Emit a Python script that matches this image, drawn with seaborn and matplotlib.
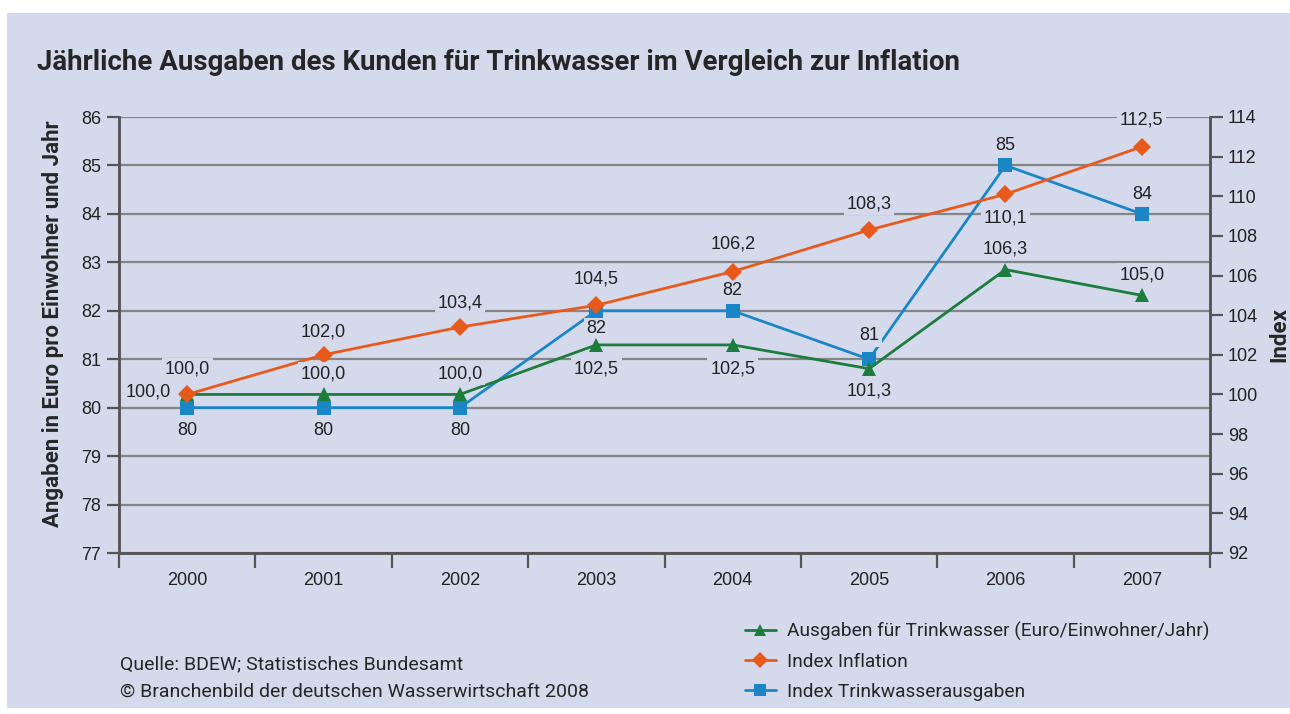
import matplotlib
matplotlib.use("Agg")
import matplotlib.pyplot as plt
import numpy as np
import pandas as pd
import seaborn as sns
from matplotlib.lines import Line2D
from matplotlib.patches import Rectangle

# data
years = ["2000", "2001", "2002", "2003", "2004", "2005", "2006", "2007"]
euro_wasser = [80, 80, 80, 82, 82, 81, 85, 84]  # blue, left axis
index_wasser = [100.0, 100.0, 100.0, 102.5, 102.5, 101.3, 106.3, 105.0]  # green, right
index_inflation = [100.0, 102.0, 103.4, 104.5, 106.2, 108.3, 110.1, 112.5]  # orange, right

# label placement: offsets in points
blue_off = [(0, -16.5), (0, -16.5), (0, -16.5), (0, -13), (0, 14.5), (0, 17), (0, 14.5), (0, 14)]
green_off = [(0, 18), (0, 15), (0, 15), (0, -17), (0, -17), (0, -16), (0, 15), (0, 15)]
orange_off = [(-28, 2), (0, 16.5), (0, 17), (0, 19), (0, 19.5), (0, 19), (0, -17), (0, 19)]

BG = "#d4daec"
BLUE = "#1b86c6"
GREEN = "#1c7d3c"
ORANGE = "#e8591c"
GRID = "#858585"
SPINE = "#555555"

sns.set_style("white")
plt.rcParams["font.family"] = ["Liberation Sans", "DejaVu Sans"]
narrow = ["Roboto", "DejaVu Sans"]

df = pd.DataFrame({"Jahr": years, "euro": euro_wasser,
                   "iw": index_wasser, "ii": index_inflation})

fig = plt.figure(figsize=(12.9, 7.14), dpi=100)
fig.patch.set_facecolor("white")
fig.patches.append(Rectangle((7 / 1290, 6 / 714), 1 - 7 / 1290, 1 - 19 / 714,
                             transform=fig.transFigure, facecolor=BG,
                             edgecolor="none", zorder=-10))

ax = fig.add_axes([119 / 1290, 1 - 553 / 714, (1210 - 119) / 1290, (553 - 117) / 714])
ax.set_facecolor(BG)
ax2 = ax.twinx()

sns.lineplot(data=df, x="Jahr", y="euro", ax=ax, color=BLUE, marker="s",
             markersize=10, markeredgewidth=0, linewidth=2.0)
sns.lineplot(data=df, x="Jahr", y="iw", ax=ax2, color=GREEN, marker="^",
             markersize=10, markeredgewidth=0, linewidth=2.0)
sns.lineplot(data=df, x="Jahr", y="ii", ax=ax2, color=ORANGE, marker="D",
             markersize=9, markeredgewidth=0, linewidth=2.0)

ax.set_ylim(77, 86)
ax.set_yticks(range(77, 87))
ax2.set_ylim(92, 114)
ax2.set_yticks(range(92, 115, 2))
ax.set_xlim(-0.5, 7.5)

ax.grid(axis="y", color=GRID, linewidth=1.6)
ax.set_axisbelow(True)
for a in (ax, ax2):
    for s in a.spines.values():
        s.set_color(SPINE)
        s.set_linewidth(1.8)
    a.spines["top"].set_visible(False)

ax.tick_params(axis="y", direction="out", length=9, width=1.6, color=SPINE,
               labelsize=13, labelcolor="#222222", pad=4, left=True)
ax2.tick_params(axis="y", direction="out", length=9, width=1.6, color=SPINE,
                labelsize=13, labelcolor="#222222", pad=4, right=True)
ax.set_xticks(range(len(years)))
ax.set_xticklabels(years)
ax.set_xticks(np.arange(-0.5, 8, 1), minor=True)
ax.tick_params(axis="x", which="major", length=0, labelsize=13,
               labelcolor="#222222", pad=14)
ax.tick_params(axis="x", which="minor", direction="out", length=11,
               width=1.6, color=SPINE, bottom=True)

ax.set_xlabel("")
ax.set_ylabel("Angaben in Euro pro Einwohner und Jahr", family=narrow,
              fontsize=16, fontweight="bold", labelpad=12)
ax.yaxis.label.set_y(0.525)
ax2.set_ylabel("")
fig.text(1279 / 1290, 1 - 335 / 714, "Index", family=narrow, fontsize=16,
         fontweight="bold", rotation=90, ha="center", va="center")


def fmt(v):
    return f"{v:.1f}".replace(".", ",")


box = dict(boxstyle="square,pad=0.15", facecolor=BG, edgecolor="none")
for i, v in enumerate(euro_wasser):
    ax.annotate(str(v), (i, v), xytext=blue_off[i], textcoords="offset points",
                ha="center", va="center", fontsize=13, color="#222222", bbox=box)
for i, v in enumerate(index_wasser):
    ax2.annotate(fmt(v), (i, v), xytext=green_off[i], textcoords="offset points",
                 ha="center", va="center", fontsize=13, color="#222222", bbox=box)
for i, v in enumerate(index_inflation):
    ax2.annotate(fmt(v), (i, v), xytext=orange_off[i], textcoords="offset points",
                 ha="center", va="center", fontsize=13, color="#222222", bbox=box)

fig.text(37 / 1290, 1 - 63 / 714,
         "Jährliche Ausgaben des Kunden für Trinkwasser im Vergleich zur Inflation",
         family=narrow, fontsize=19.9, fontweight="bold", va="center", ha="left")

fig.text(120 / 1290, 1 - 664 / 714, "Quelle: BDEW; Statistisches Bundesamt",
         family=narrow, fontsize=14, va="center")
fig.text(120 / 1290, 1 - 692 / 714,
         "© Branchenbild der deutschen Wasserwirtschaft 2008",
         family=narrow, fontsize=14, va="center")

handles = [
    Line2D([], [], color=GREEN, marker="^", markersize=9, markeredgewidth=0, linewidth=2),
    Line2D([], [], color=ORANGE, marker="D", markersize=8, markeredgewidth=0, linewidth=2),
    Line2D([], [], color=BLUE, marker="s", markersize=8, markeredgewidth=0, linewidth=2),
]
labels = ["Ausgaben für Trinkwasser (Euro/Einwohner/Jahr)", "Index Inflation",
          "Index Trinkwasserausgaben"]
fig.legend(handles, labels, loc="upper left", bbox_to_anchor=(745 / 1290, 1 - 622 / 714),
           frameon=False, prop={"family": narrow, "size": 13.8}, handlelength=1.6,
           handletextpad=0.6, labelspacing=0.62, borderaxespad=0, borderpad=0)

fig.savefig("out.png", dpi=100, facecolor=fig.get_facecolor())
